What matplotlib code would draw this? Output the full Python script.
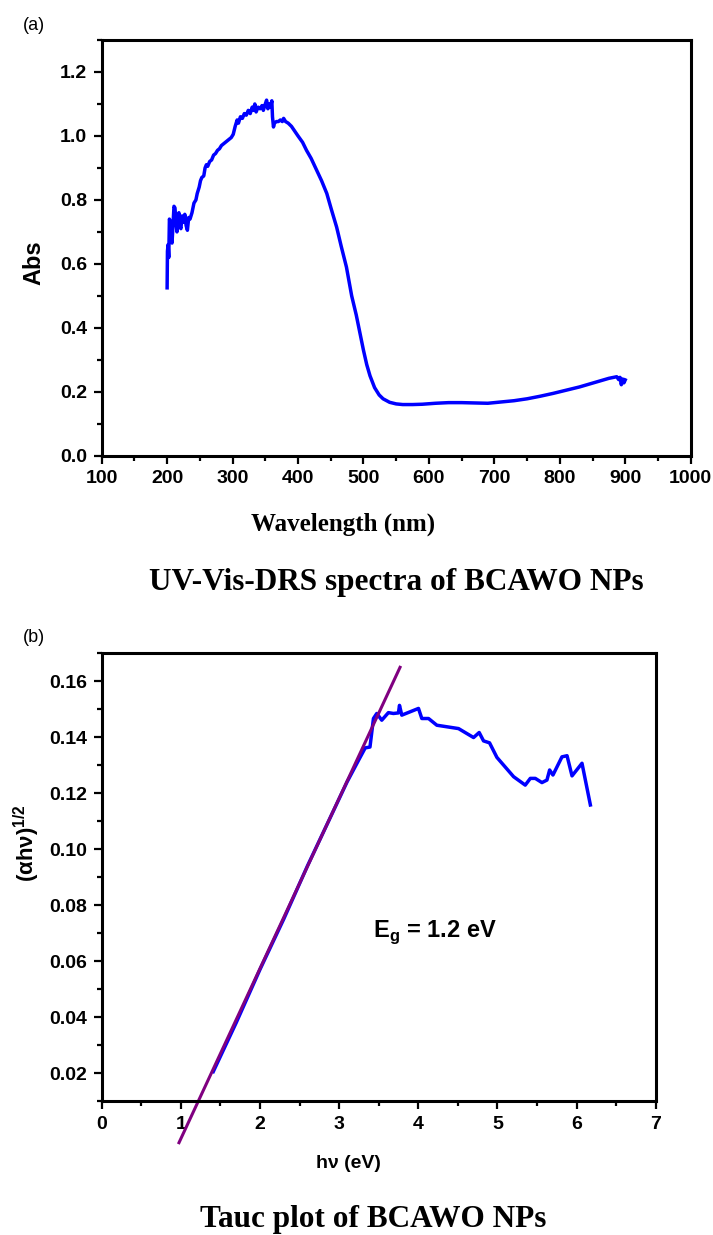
import numpy as np
import matplotlib.pyplot as plt
from matplotlib.ticker import MultipleLocator

plt.rcParams['font.family'] = ['Liberation Sans', 'DejaVu Sans']
plt.rcParams['mathtext.fontset'] = 'custom'
plt.rcParams['mathtext.rm'] = 'Liberation Sans'
plt.rcParams['mathtext.bf'] = 'Liberation Sans:bold'

# (a) UV-Vis-DRS spectrum
wavelength = [200, 200.5, 201.5, 202.5, 203.5, 205, 206, 207.5, 209, 210.5, 212, 213.5,
              215, 216.5, 218, 219.5, 221, 223, 225, 227, 229, 231, 233, 235, 238, 241,
              244, 246, 249, 251, 253, 256, 258, 260, 262, 265, 268, 271, 274, 277, 280,
              283, 286, 289, 292, 295, 298, 301, 304, 307, 309, 312, 315, 318, 321, 324,
              327, 330, 332, 334, 336, 339, 342, 345, 347, 350, 352, 354, 356, 358, 360,
              361, 362.5, 364, 367, 370, 373, 376, 378, 381, 385, 390, 395, 400, 407, 413,
              420, 428, 436, 444, 451, 459, 466, 474, 482, 489, 495, 500, 505, 510, 517,
              524, 530, 540, 550, 560, 575, 590, 610, 630, 650, 670, 690, 710, 730, 750,
              770, 790, 810, 830, 850, 865, 875, 882, 887, 890, 892, 894, 896, 898, 900]
absorbance = [0.525, 0.64, 0.66, 0.62, 0.74, 0.73, 0.68, 0.665, 0.72, 0.78, 0.775, 0.73,
              0.70, 0.74, 0.76, 0.72, 0.71, 0.75, 0.73, 0.755, 0.72, 0.705, 0.745, 0.74,
              0.76, 0.79, 0.80, 0.82, 0.84, 0.86, 0.87, 0.875, 0.90, 0.91, 0.905, 0.92,
              0.925, 0.94, 0.945, 0.955, 0.96, 0.97, 0.975, 0.98, 0.985, 0.99, 0.995,
              1.005, 1.03, 1.05, 1.04, 1.06, 1.055, 1.07, 1.065, 1.08, 1.07, 1.09, 1.08,
              1.10, 1.075, 1.09, 1.085, 1.095, 1.08, 1.10, 1.112, 1.085, 1.10, 1.09, 1.11,
              1.06, 1.028, 1.04, 1.045, 1.045, 1.05, 1.045, 1.055, 1.045, 1.04, 1.03,
              1.015, 1.00, 0.98, 0.955, 0.93, 0.895, 0.86, 0.82, 0.77, 0.715, 0.655, 0.59,
              0.50, 0.44, 0.38, 0.33, 0.285, 0.25, 0.213, 0.19, 0.178, 0.167, 0.162, 0.16,
              0.16, 0.161, 0.164, 0.166, 0.166, 0.165, 0.164, 0.168, 0.172, 0.178, 0.186,
              0.195, 0.205, 0.215, 0.227, 0.236, 0.242, 0.245, 0.247, 0.238, 0.245, 0.222,
              0.24, 0.228, 0.237]

# (b) Tauc plot
hv = [1.41, 1.7, 2.0, 2.3, 2.6, 2.9, 3.1, 3.25, 3.33, 3.39, 3.434, 3.476, 3.539, 3.623,
      3.686, 3.75, 3.763, 3.792, 4.003, 4.045, 4.13, 4.235, 4.509, 4.699, 4.77, 4.825,
      4.901, 4.994, 5.205, 5.352, 5.416, 5.479, 5.563, 5.626, 5.66, 5.702, 5.816, 5.88,
      5.943, 6.069, 6.175]
tauc = [0.0205, 0.038, 0.057, 0.075, 0.094, 0.112, 0.124, 0.132, 0.1362, 0.1365, 0.1467,
        0.1485, 0.1461, 0.1488, 0.1485, 0.1487, 0.1514, 0.1479, 0.1503, 0.1467, 0.1467,
        0.1443, 0.1431, 0.1399, 0.1417, 0.1387, 0.138, 0.1328, 0.1259, 0.1229, 0.1253,
        0.1253, 0.1238, 0.1247, 0.1283, 0.1265, 0.133, 0.1334, 0.1262, 0.1307, 0.1158]
fit_x = [0.977, 3.77]
fit_y = [-0.0049, 0.165]

fig = plt.figure(figsize=(7.13, 12.35), dpi=100)


def style_axes(ax):
    for s in ax.spines.values():
        s.set_linewidth(2.2)
    ax.tick_params(which='both', direction='out', width=1.6, top=False, right=False)
    ax.tick_params(which='major', length=6, pad=4.5, labelsize=14)
    ax.tick_params(which='minor', length=3.5)
    for lab in ax.get_xticklabels() + ax.get_yticklabels():
        lab.set_fontweight('bold')


# panel (a)
ax1 = fig.add_axes([0.1426, 0.6310, 0.8261, 0.3366])
ax1.plot(wavelength, absorbance, color='#0000ff', lw=2.5)
ax1.set_xlim(100, 1000)
ax1.set_ylim(0, 1.3)
ax1.xaxis.set_major_locator(MultipleLocator(100))
ax1.xaxis.set_minor_locator(MultipleLocator(50))
ax1.set_yticks([0, 0.2, 0.4, 0.6, 0.8, 1.0, 1.2])
ax1.yaxis.set_minor_locator(MultipleLocator(0.1))
ax1.set_yticklabels(['0.0', '0.2', '0.4', '0.6', '0.8', '1.0', '1.2'])
style_axes(ax1)

fig.text(34 / 713, 1 - 263 / 1235, 'Abs', rotation=90, fontsize=17, fontweight='bold',
         ha='center', va='center')
fig.text(343 / 713, 1 - 524 / 1235, 'Wavelength (nm)', family='Liberation Serif',
         fontsize=18, fontweight='bold', ha='center', va='center')
fig.text(396 / 713, 1 - 583 / 1235, 'UV-Vis-DRS spectra of BCAWO NPs',
         family='Liberation Serif', fontsize=22.5, fontweight='bold', ha='center', va='center')
fig.text(23 / 713, 1 - 25 / 1235, '(a)', fontsize=13, ha='left', va='center')

# panel (b)
ax2 = fig.add_axes([0.1426, 0.1085, 0.7770, 0.3625])
ax2.plot(hv, tauc, color='#0000ff', lw=2.5)
ax2.plot(fit_x, fit_y, color='#800080', lw=2.2, clip_on=False)
ax2.set_xlim(0, 7)
ax2.set_ylim(0.01, 0.17)
ax2.xaxis.set_major_locator(MultipleLocator(1))
ax2.xaxis.set_minor_locator(MultipleLocator(0.5))
ax2.set_yticks([0.02, 0.04, 0.06, 0.08, 0.10, 0.12, 0.14, 0.16])
ax2.set_yticklabels(['0.02', '0.04', '0.06', '0.08', '0.10', '0.12', '0.14', '0.16'])
ax2.yaxis.set_minor_locator(MultipleLocator(0.01))
style_axes(ax2)

fig.text(435 / 713, 1 - 932 / 1235, r'E$_\mathbf{g}$ = 1.2 eV', fontsize=17,
         fontweight='bold', ha='center', va='center')
fig.text(27 / 713, 1 - 843 / 1235, '(αhν)$^\\mathbf{1/2}$', rotation=90,
         fontsize=16, fontweight='bold', ha='center', va='center')
fig.text(348 / 713, 1 - 1164 / 1235, 'hν (eV)', fontsize=14, fontweight='bold',
         ha='center', va='center')
fig.text(373 / 713, 1 - 1219 / 1235, 'Tauc plot of BCAWO NPs', family='Liberation Serif',
         fontsize=22.5, fontweight='bold', ha='center', va='center')
fig.text(23 / 713, 1 - 638 / 1235, '(b)', fontsize=13, ha='left', va='center')

fig.savefig('out.png', dpi=100)
